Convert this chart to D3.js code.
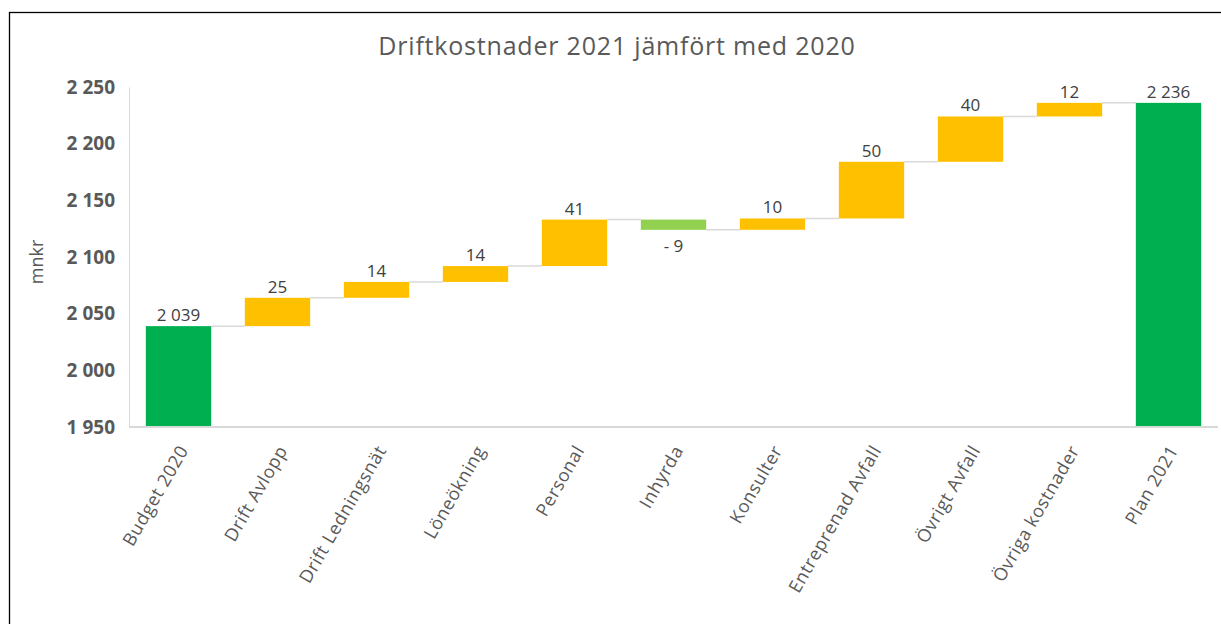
<!DOCTYPE html>
<html>
<head>
<meta charset="utf-8">
<script src="https://cdn.jsdelivr.net/npm/d3@7"></script>
<style>
  body { margin: 0; background: #fff; }
  svg { display: block; font-family: "Open Sans", Lato, sans-serif; }
</style>
</head>
<body>
<script>
// Data
const categories = ["Budget 2020", "Drift Avlopp", "Drift Ledningsnät", "Löneökning", "Personal",
  "Inhyrda", "Konsulter", "Entreprenad Avfall", "Övrigt Avfall", "Övriga kostnader", "Plan 2021"];
const startValue = 2039;
const changes = [25, 14, 14, 41, -9, 10, 50, 40, 12];
const endValue = 2236;
const yTicks = [1950, 2000, 2050, 2100, 2150, 2200, 2250];

const width = 1221, height = 624;
const margin = {top: 87, right: 3, bottom: 197, left: 129};
const innerW = width - margin.left - margin.right;
const innerH = height - margin.top - margin.bottom;

const green = "#00b050", yellow = "#ffc000", lightGreen = "#92d050";
const textGrey = "#595959";

// build waterfall rows
let running = startValue;
const rows = [{name: categories[0], y0: 1950, y1: startValue, label: startValue, total: true, level: startValue}];
changes.forEach((c, i) => {
  const prev = running;
  running += c;
  rows.push({name: categories[i + 1], y0: prev, y1: running, label: c, total: false, level: running});
});
rows.push({name: categories[10], y0: 1950, y1: endValue, label: endValue, total: true, level: endValue});

const fmt = v => {
  const s = d3.format(",")(Math.abs(v)).replace(/,/g, " ");
  return v < 0 ? "- " + s : s;
};

const svg = d3.select("body").append("svg")
  .attr("width", width)
  .attr("height", height);

// chart frame
svg.append("rect")
  .attr("x", 9.5).attr("y", 12.5)
  .attr("width", 1220).attr("height", 640)
  .attr("fill", "none").attr("stroke", "#000").attr("stroke-width", 1.3);

svg.append("text")
  .attr("x", 617).attr("y", 55)
  .attr("text-anchor", "middle")
  .attr("font-size", 25)
  .attr("letter-spacing", 0.8)
  .attr("fill", textGrey)
  .text("Driftkostnader 2021 jämfört med 2020");

const g = svg.append("g").attr("transform", `translate(${margin.left},${margin.top})`);

const x = d3.scaleBand(categories, [0, innerW]).paddingInner(0.34).paddingOuter(0.17);
const y = d3.scaleLinear([1950, 2250], [innerH, 0]);

// y axis
g.append("g")
  .call(d3.axisLeft(y).tickValues(yTicks).tickSize(0).tickPadding(14).tickFormat(d => fmt(d)))
  .call(g => g.select(".domain").attr("stroke", "#d9d9d9"))
  .call(g => g.selectAll(".tick text")
    .attr("font-family", "'Open Sans', sans-serif")
    .attr("font-size", 19)
    .attr("font-weight", "bold")
    .attr("fill", textGrey));

svg.append("text")
  .attr("transform", `translate(43,262) rotate(-90)`)
  .attr("text-anchor", "middle")
  .attr("font-size", 18)
  .attr("fill", textGrey)
  .text("mnkr");

// connectors
g.append("g")
  .selectAll("line")
  .data(rows.slice(0, -1))
  .join("line")
  .attr("x1", d => x(d.name) + x.bandwidth())
  .attr("x2", (d, i) => x(rows[i + 1].name))
  .attr("y1", d => y(d.level))
  .attr("y2", d => y(d.level))
  .attr("stroke", "#d9d9d9")
  .attr("stroke-width", 1.5);

// bars
g.append("g")
  .selectAll("rect")
  .data(rows)
  .join("rect")
  .attr("x", d => x(d.name))
  .attr("width", x.bandwidth())
  .attr("y", d => y(Math.max(d.y0, d.y1)))
  .attr("height", d => Math.abs(y(d.y0) - y(d.y1)))
  .attr("fill", d => d.total ? green : (d.label < 0 ? lightGreen : yellow));

// x axis line
g.append("line")
  .attr("x1", 0).attr("x2", innerW)
  .attr("y1", innerH).attr("y2", innerH)
  .attr("stroke", "#d9d9d9")
  .attr("stroke-width", 2);

// data labels
g.append("g")
  .selectAll("text")
  .data(rows)
  .join("text")
  .attr("x", d => x(d.name) + x.bandwidth() / 2)
  .attr("y", d => d.label < 0 ? y(Math.min(d.y0, d.y1)) + 22 : y(Math.max(d.y0, d.y1)) - 5)
  .attr("text-anchor", "middle")
  .attr("font-size", 17)
  .attr("fill", "#404040")
  .text(d => fmt(d.label));

// x labels
g.append("g")
  .selectAll("text")
  .data(categories)
  .join("text")
  .attr("transform", d => `translate(${x(d) + x.bandwidth() / 2 + 5},${innerH + 20}) rotate(-60)`)
  .attr("text-anchor", "end")
  .attr("dy", "0.35em")
  .attr("font-size", 18)
  .attr("letter-spacing", 0.6)
  .attr("fill", textGrey)
  .text(d => d);
</script>
</body>
</html>
